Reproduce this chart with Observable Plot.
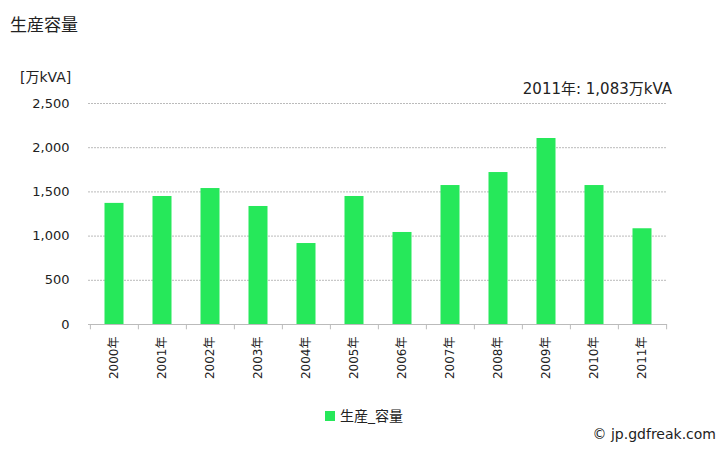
<!DOCTYPE html>
<html><head><meta charset="utf-8">
<script src="https://cdn.jsdelivr.net/npm/d3@7"></script>
<script src="https://cdn.jsdelivr.net/npm/@observablehq/plot@0.6"></script>
<style>
body{margin:0;background:#fff;font-family:"DejaVu Sans","Noto Sans CJK JP",sans-serif;}
#wrap{position:relative;width:728px;height:450px;overflow:hidden;}
.t{position:absolute;white-space:nowrap;color:#222;}
</style></head><body>
<div id="wrap">
<div class="t" style="left:10px;top:11px;font-size:17px;">生産容量</div>
<div class="t" style="left:20px;top:66px;font-size:14px;">[万kVA]</div>
<div class="t" style="right:56px;top:77px;font-size:15px;">2011年: 1,083万kVA</div>
<div class="t" style="left:325px;top:405px;font-size:14px;"><span style="display:inline-block;width:10px;height:10px;background:#26E85A;margin-right:5px;"></span>生産_容量</div>
<div class="t" style="right:12px;top:426px;font-size:14px;">© jp.gdfreak.com</div>
</div>
<script>
const years = ["2000年","2001年","2002年","2003年","2004年","2005年","2006年","2007年","2008年","2009年","2010年","2011年"];
const values = [1370,1448,1538,1335,916,1448,1041,1572,1719,2104,1572,1083];
const yTicks = [0,500,1000,1500,2000,2500];
const data = years.map((y,i)=>({year:y, value:values[i]}));
const W=728, H=450, mL=88, mR=61, mT=103, mB=126;
const step=(W-mL-mR)/years.length;
const chart = Plot.plot({
  width:W, height:H, marginLeft:mL, marginRight:mR, marginTop:mT, marginBottom:mB,
  style:{fontFamily:'"DejaVu Sans","Noto Sans CJK JP",sans-serif', fontSize:"13px", color:"#222", background:"transparent"},
  x:{domain:years, padding:0, label:null},
  y:{domain:[0,2500], label:null},
  marks:[
    Plot.ruleY(yTicks.filter(d=>d>0), {stroke:"#bbb", strokeDasharray:"2,1"}),
    Plot.barY(data, {x:"year", y:"value", fill:"#26E85A", insetLeft:14.5, insetRight:14.5}),
    Plot.ruleY([0], {stroke:"#bbb"}),
    Plot.ruleX(years, {x:d=>d, dx:-step/2, y1:0, y2:-60, stroke:"#bbb"}),
    Plot.ruleX([years[years.length-1]], {x:d=>d, dx:step/2, y1:0, y2:-60, stroke:"#bbb"}),
    Plot.axisY({ticks:yTicks, tickSize:0, tickPadding:19, tickFormat:d3.format(","), fontSize:13, label:null}),
    Plot.axisX({tickSize:0, tickRotate:-90, tickPadding:12, fontSize:12, label:null})
  ]
});
chart.style.position="absolute"; chart.style.left="0"; chart.style.top="0";
document.getElementById("wrap").prepend(chart);
</script>
</body></html>
